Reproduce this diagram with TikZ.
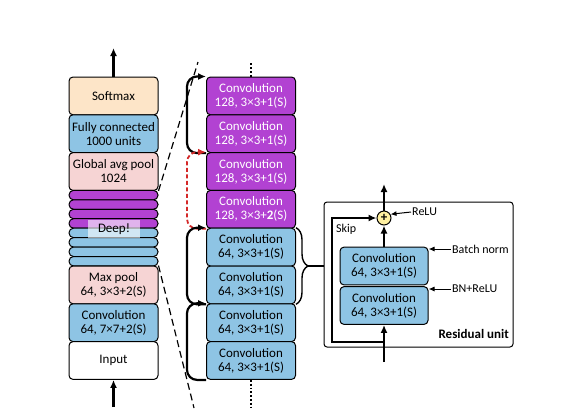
\documentclass[tikz,border=0pt]{standalone}
\usepackage{fontspec}
\setmainfont{Carlito}
\usetikzlibrary{arrows.meta,decorations.pathreplacing}

\definecolor{peach}{RGB}{253,229,200}
\definecolor{convblue}{RGB}{142,196,228}
\definecolor{poolpink}{RGB}{246,212,212}
\definecolor{convpurple}{RGB}{178,66,210}
\definecolor{addyellow}{RGB}{255,240,160}
\definecolor{skipred}{RGB}{212,40,40}

\begin{document}
\begin{tikzpicture}[x=1pt,y=-1pt,
  box/.style={draw, rounded corners=4pt, minimum width=89pt, minimum height=37.8pt,
    inner sep=1pt, align=center, font=\fontsize{13}{14}\selectfont, line width=1pt},
  band/.style={draw, rounded corners=4.5pt, minimum width=89pt, minimum height=9.45pt,
    inner sep=0pt, line width=1pt},
  arr/.style={-{Latex[length=8pt,width=7pt]}, line width=2.2pt},
  skiparr/.style={arr, rounded corners=10pt},
  pointer/.style={-{Latex[length=6pt,width=5pt]}, line width=1pt},
  zoomline/.style={dashed, dash pattern=on 7pt off 4pt, line width=1.2pt},
  lbl/.style={font=\fontsize{12}{13}\selectfont, inner sep=1pt},
]
\useasboundingbox (0,0) rectangle (577,413);

% Draw the whole network
\node[box, fill=peach] (soft) at (113.5,95.9) {Softmax};
\node[box, fill=convblue] (fc) at (113.5,133.7) {Fully connected\\1000 units};
\node[box, fill=poolpink] (gap) at (113.5,171.5) {Global avg pool\\1024};
\foreach \i in {0,...,3}
  \node[band, fill=convpurple] (dp\i) at (113.5,195.1+9.45*\i) {};
\foreach \i in {4,...,7}
  \node[band, fill=convblue] (db\i) at (113.5,195.1+9.45*\i) {};
\node[box, draw=none, fill=white, fill opacity=0.6, text opacity=1, rounded corners=0pt,
  minimum width=52pt, minimum height=18pt] (deep) at (114,229) {Deep!};
\node[box, fill=poolpink] (mp) at (113.5,284.9) {Max pool\\64, 3×3+2(S)};
\node[box, fill=convblue] (c7) at (113.5,322.7) {Convolution\\64, 7×7+2(S)};
\node[box, fill=white] (inp) at (113.5,360.5) {Input};

\coordinate (top) at (113.5,48);
\coordinate (bot) at (113.5,407);
\draw[arr] (soft.north) -- (top);
\draw[arr] (bot) -- (inp.south);

% Draw the zoomed part
\node[box, fill=convpurple, text=white] (p1) at (251,95.9) {Convolution\\128, 3×3+1(S)};
\node[box, fill=convpurple, text=white] (p2) at (251,133.7) {Convolution\\128, 3×3+1(S)};
\node[box, fill=convpurple, text=white] (p3) at (251,171.5) {Convolution\\128, 3×3+1(S)};
\node[box, fill=convpurple, text=white] (p4) at (251,209.3) {Convolution\\128, 3×3+\textbf{2}(S)};
\node[box, fill=convblue] (b1) at (251,247.1) {Convolution\\64, 3×3+1(S)};
\node[box, fill=convblue] (b2) at (251,284.9) {Convolution\\64, 3×3+1(S)};
\node[box, fill=convblue] (b3) at (251,322.7) {Convolution\\64, 3×3+1(S)};
\node[box, fill=convblue] (b4) at (251,360.5) {Convolution\\64, 3×3+1(S)};

\coordinate (mtop) at (251,62);
\coordinate (mbot) at (251,408);
\draw[dotted, line width=1.8pt] (p1.north) -- (mtop);
\draw[dotted, line width=1.8pt] (b4.south) -- (mbot);

\coordinate (zt) at (198,62);
\coordinate (zb) at (194,408);
\draw[zoomline] (gap.south east) -- (zt);
\draw[zoomline] (mp.north east) -- (zb);

% Skip connections
\draw[skiparr] (p2.south west) -| ([xshift=-19pt]p1.north west) -- (p1.north west);
\draw[skiparr, skipred, dash pattern=on 4pt off 2.5pt, line width=1.8pt] (p4.south west) -| ([xshift=-19pt]p3.north west) -- (p3.north west);
\draw[skiparr] (b2.south west) -| ([xshift=-19pt]b1.north west) -- (b1.north west);
\draw[skiparr] (b4.south west) -| ([xshift=-19pt]b3.north west) -- (b3.north west);

\draw[decorate, decoration={brace, amplitude=12pt}, line width=1.4pt] (b1.north east) -- (b2.south east);
\coordinate (brtip) at (307,266);

% Residual unit
\node[draw, fill=white, rounded corners=3pt, minimum width=189pt, minimum height=145pt,
  line width=1pt] (res) at (418.5,274.5) {};
\draw[line width=1.4pt] (brtip) -- (brtip -| res.west);

\node[box, fill=convblue, minimum width=88pt] (r1) at (384,266) {Convolution\\64, 3×3+1(S)};
\node[box, fill=convblue, minimum width=88pt] (r2) at (384,305.5) {Convolution\\64, 3×3+1(S)};
\node[draw, circle, fill=addyellow, inner sep=0pt, minimum size=14pt, line width=1pt,
  font=\bfseries\fontsize{13}{13}\selectfont] (add) at (384,218) {+};

\coordinate (rin) at (384,362);
\coordinate (rout) at (384,184);
\coordinate (sk) at (384,342);
\coordinate (skc) at (332,342);
\draw[arr] (rin) -- (r2.south);
\draw[arr] (r1.north) -- (add.south);
\draw[arr] (add.north) -- (rout);
\draw[arr, line width=1.8pt] (sk) -- (skc) |- (add.west);

\node[lbl, anchor=west] (skip) at (335,229) {Skip};
\node[lbl, anchor=west] (relu) at (411,212) {ReLU};
\node[lbl, anchor=west] (bn) at (451,249) {Batch norm};
\node[lbl, anchor=west] (bnr) at (451,289) {BN+ReLU};
\draw[pointer] (relu.west) -- (add.30);
\draw[pointer] (bn.west) -- (bn.west -| r1.east);
\draw[pointer] (bnr.west) -- (bnr.west -| r2.east);
\node[lbl, anchor=base east, font=\bfseries\fontsize{13}{14}\selectfont] (resl) at (510,338) {Residual unit};

\end{tikzpicture}
\end{document}
